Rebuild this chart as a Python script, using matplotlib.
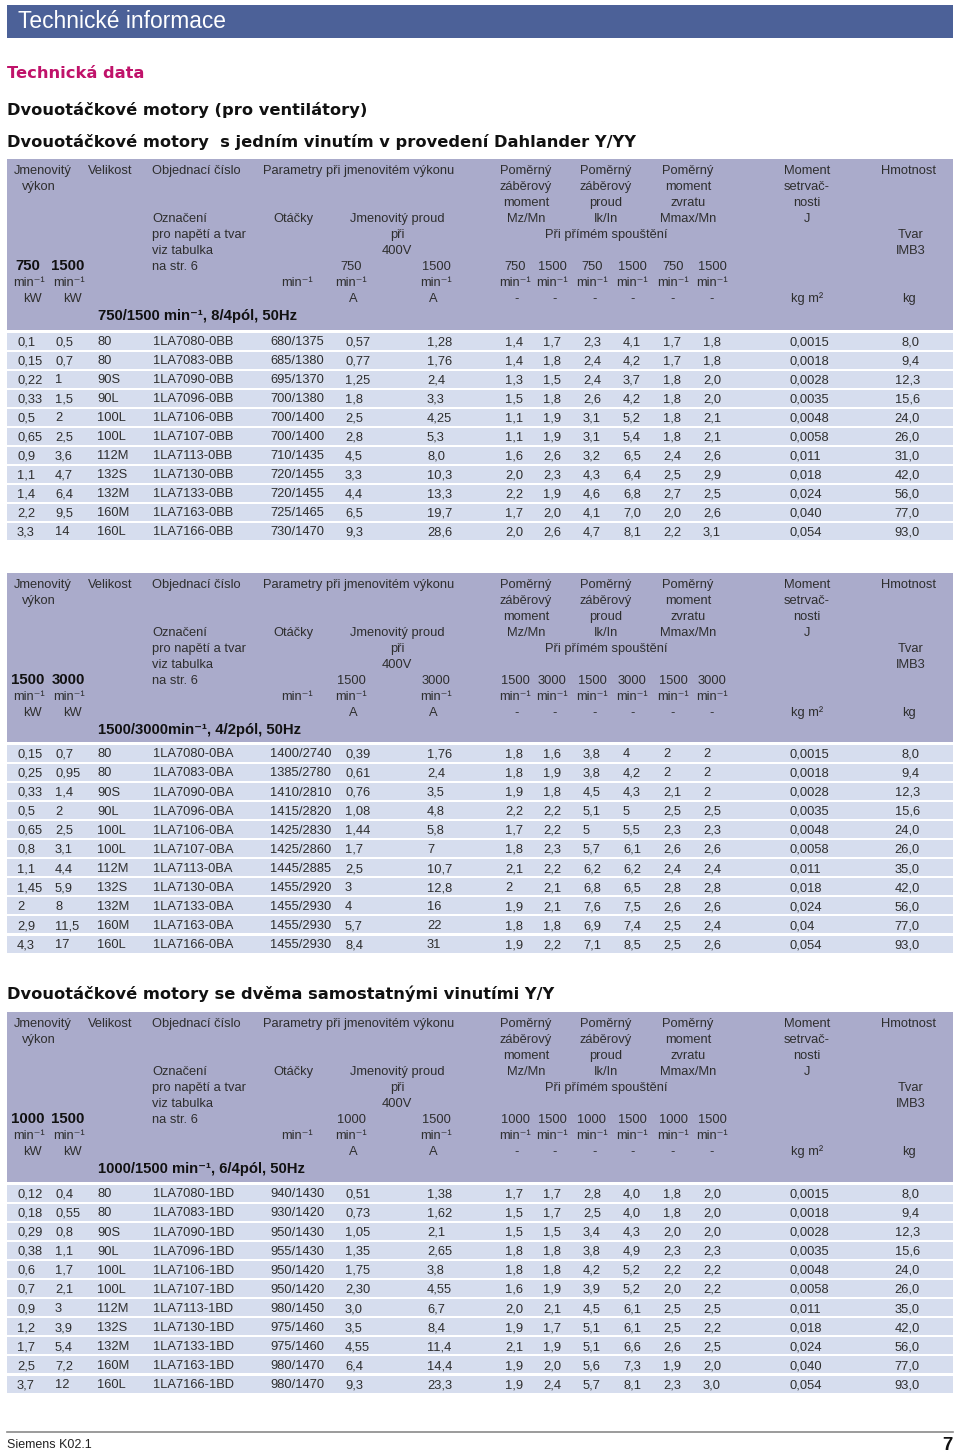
import matplotlib
matplotlib.use("Agg")
import matplotlib.pyplot as plt
from matplotlib.patches import Rectangle

# ---------------- data ----------------
sizes = ['80', '80', '90S', '90L', '100L', '100L', '112M', '132S', '132M', '160M', '160L']
frames = ['7080', '7083', '7090', '7096', '7106', '7107', '7113', '7130', '7133', '7163', '7166']

# Table 1: 750/1500
t1_speeds = ('750', '1500')
t1_sub = '750/1500 min⁻¹, 8/4pól, 50Hz'
t1_kw1 = ['0,1', '0,15', '0,22', '0,33', '0,5', '0,65', '0,9', '1,1', '1,4', '2,2', '3,3']
t1_kw2 = ['0,5', '0,7', '1', '1,5', '2', '2,5', '3,6', '4,7', '6,4', '9,5', '14']
t1_order = ['1LA' + f + '-0BB' for f in frames]
t1_rpm = ['680/1375', '685/1380', '695/1370', '700/1380', '700/1400', '700/1400',
          '710/1435', '720/1455', '720/1455', '725/1465', '730/1470']
t1_i1 = ['0,57', '0,77', '1,25', '1,8', '2,5', '2,8', '4,5', '3,3', '4,4', '6,5', '9,3']
t1_i2 = ['1,28', '1,76', '2,4', '3,3', '4,25', '5,3', '8,0', '10,3', '13,3', '19,7', '28,6']
t1_mz1 = ['1,4', '1,4', '1,3', '1,5', '1,1', '1,1', '1,6', '2,0', '2,2', '1,7', '2,0']
t1_mz2 = ['1,7', '1,8', '1,5', '1,8', '1,9', '1,9', '2,6', '2,3', '1,9', '2,0', '2,6']
t1_ik1 = ['2,3', '2,4', '2,4', '2,6', '3,1', '3,1', '3,2', '4,3', '4,6', '4,1', '4,7']
t1_ik2 = ['4,1', '4,2', '3,7', '4,2', '5,2', '5,4', '6,5', '6,4', '6,8', '7,0', '8,1']
t1_mm1 = ['1,7', '1,7', '1,8', '1,8', '1,8', '1,8', '2,4', '2,5', '2,7', '2,0', '2,2']
t1_mm2 = ['1,8', '1,8', '2,0', '2,0', '2,1', '2,1', '2,6', '2,9', '2,5', '2,6', '3,1']
t1_J = ['0,0015', '0,0018', '0,0028', '0,0035', '0,0048', '0,0058', '0,011', '0,018', '0,024', '0,040', '0,054']
t1_mass = ['8,0', '9,4', '12,3', '15,6', '24,0', '26,0', '31,0', '42,0', '56,0', '77,0', '93,0']

# Table 2: 1500/3000
t2_speeds = ('1500', '3000')
t2_sub = '1500/3000min⁻¹, 4/2pól, 50Hz'
t2_kw1 = ['0,15', '0,25', '0,33', '0,5', '0,65', '0,8', '1,1', '1,45', '2', '2,9', '4,3']
t2_kw2 = ['0,7', '0,95', '1,4', '2', '2,5', '3,1', '4,4', '5,9', '8', '11,5', '17']
t2_order = ['1LA' + f + '-0BA' for f in frames]
t2_rpm = ['1400/2740', '1385/2780', '1410/2810', '1415/2820', '1425/2830', '1425/2860',
          '1445/2885', '1455/2920', '1455/2930', '1455/2930', '1455/2930']
t2_i1 = ['0,39', '0,61', '0,76', '1,08', '1,44', '1,7', '2,5', '3', '4', '5,7', '8,4']
t2_i2 = ['1,76', '2,4', '3,5', '4,8', '5,8', '7', '10,7', '12,8', '16', '22', '31']
t2_mz1 = ['1,8', '1,8', '1,9', '2,2', '1,7', '1,8', '2,1', '2', '1,9', '1,8', '1,9']
t2_mz2 = ['1,6', '1,9', '1,8', '2,2', '2,2', '2,3', '2,2', '2,1', '2,1', '1,8', '2,2']
t2_ik1 = ['3,8', '3,8', '4,5', '5,1', '5', '5,7', '6,2', '6,8', '7,6', '6,9', '7,1']
t2_ik2 = ['4', '4,2', '4,3', '5', '5,5', '6,1', '6,2', '6,5', '7,5', '7,4', '8,5']
t2_mm1 = ['2', '2', '2,1', '2,5', '2,3', '2,6', '2,4', '2,8', '2,6', '2,5', '2,5']
t2_mm2 = ['2', '2', '2', '2,5', '2,3', '2,6', '2,4', '2,8', '2,6', '2,4', '2,6']
t2_J = ['0,0015', '0,0018', '0,0028', '0,0035', '0,0048', '0,0058', '0,011', '0,018', '0,024', '0,04', '0,054']
t2_mass = ['8,0', '9,4', '12,3', '15,6', '24,0', '26,0', '35,0', '42,0', '56,0', '77,0', '93,0']

# Table 3: 1000/1500
t3_speeds = ('1000', '1500')
t3_sub = '1000/1500 min⁻¹, 6/4pól, 50Hz'
t3_kw1 = ['0,12', '0,18', '0,29', '0,38', '0,6', '0,7', '0,9', '1,2', '1,7', '2,5', '3,7']
t3_kw2 = ['0,4', '0,55', '0,8', '1,1', '1,7', '2,1', '3', '3,9', '5,4', '7,2', '12']
t3_order = ['1LA' + f + '-1BD' for f in frames]
t3_rpm = ['940/1430', '930/1420', '950/1430', '955/1430', '950/1420', '950/1420',
          '980/1450', '975/1460', '975/1460', '980/1470', '980/1470']
t3_i1 = ['0,51', '0,73', '1,05', '1,35', '1,75', '2,30', '3,0', '3,5', '4,55', '6,4', '9,3']
t3_i2 = ['1,38', '1,62', '2,1', '2,65', '3,8', '4,55', '6,7', '8,4', '11,4', '14,4', '23,3']
t3_mz1 = ['1,7', '1,5', '1,5', '1,8', '1,8', '1,6', '2,0', '1,9', '2,1', '1,9', '1,9']
t3_mz2 = ['1,7', '1,7', '1,5', '1,8', '1,8', '1,9', '2,1', '1,7', '1,9', '2,0', '2,4']
t3_ik1 = ['2,8', '2,5', '3,4', '3,8', '4,2', '3,9', '4,5', '5,1', '5,1', '5,6', '5,7']
t3_ik2 = ['4,0', '4,0', '4,3', '4,9', '5,2', '5,2', '6,1', '6,1', '6,6', '7,3', '8,1']
t3_mm1 = ['1,8', '1,8', '2,0', '2,3', '2,2', '2,0', '2,5', '2,5', '2,6', '1,9', '2,3']
t3_mm2 = ['2,0', '2,0', '2,0', '2,3', '2,2', '2,2', '2,5', '2,2', '2,5', '2,0', '3,0']
t3_J = ['0,0015', '0,0018', '0,0028', '0,0035', '0,0048', '0,0058', '0,011', '0,018', '0,024', '0,040', '0,054']
t3_mass = ['8,0', '9,4', '12,3', '15,6', '24,0', '26,0', '35,0', '42,0', '56,0', '77,0', '93,0']

# ---------------- styling ----------------
W, H = 960, 1454
BAR = '#4c6198'
HDR = '#aaabcb'
ROW = '#d6ddee'
TXT = '#2e2e2e'
MAG = '#c0126a'
BODY = ['Liberation Sans', 'DejaVu Sans']
FS = 9.3

fig = plt.figure(figsize=(W / 100, H / 100), dpi=100)
ax = fig.add_axes([0, 0, 1, 1])
ax.set_xlim(0, W)
ax.set_ylim(H, 0)
ax.axis('off')


def T(x, y, s, ha='left', size=FS, weight='normal', color=TXT, family=BODY, dy=4.4):
    ax.text(x, y + dy, s, ha=ha, va='baseline', fontsize=size, fontweight=weight,
            color=color, family=family)


# title bar
ax.add_patch(Rectangle((7, 5), 946, 33, color=BAR, lw=0))
T(18, 21, 'Technické informace', size=16.4, color='white', dy=7.5)

HEAD = ['DejaVu Sans']
HS = 11.7
T(7, 73, 'Technická data', size=HS, weight='bold', color=MAG, family=HEAD, dy=5.5)
T(7, 110, 'Dvouotáčkové motory (pro ventilátory)', size=HS, weight='bold', color='#111', family=HEAD, dy=5.5)
T(7, 141, 'Dvouotáčkové motory  s jedním vinutím v provedení Dahlander Y/YY', size=HS,
  weight='bold', color='#111', family=HEAD, dy=5.5)
T(7, 994, 'Dvouotáčkové motory se dvěma samostatnými vinutími Y/Y', size=HS,
  weight='bold', color='#111', family=HEAD, dy=5.5)

MIN = 'min⁻¹'
SPEED_X = [515, 552, 592, 632, 673, 712]
DATA_X = [17, 55, 97, 153, 270, 345, 427, 505, 543, 583, 623, 663, 703, 790]


def table(top, row0, pitch, speeds, sub, cols, mass):
    s1, s2 = speeds
    hb = row0 - 11
    ax.add_patch(Rectangle((7, top), 946, hb - top, color=HDR, lw=0))
    y = [top + 11 + 16 * i for i in range(9)]
    C = 'center'
    # row 0
    T(14, y[0], 'Jmenovitý'); T(88, y[0], 'Velikost'); T(152, y[0], 'Objednací číslo')
    T(263, y[0], 'Parametry při jmenovitém výkonu')
    for xc in (526, 606, 688):
        T(xc, y[0], 'Poměrný', ha=C)
    T(807, y[0], 'Moment', ha=C); T(909, y[0], 'Hmotnost', ha=C)
    # row 1
    T(22, y[1], 'výkon'); T(526, y[1], 'záběrový', ha=C); T(606, y[1], 'záběrový', ha=C)
    T(688, y[1], 'moment', ha=C); T(807, y[1], 'setrvač-', ha=C)
    # row 2
    T(526, y[2], 'moment', ha=C); T(606, y[2], 'proud', ha=C)
    T(688, y[2], 'zvratu', ha=C); T(807, y[2], 'nosti', ha=C)
    # row 3
    T(152, y[3], 'Označení'); T(293, y[3], 'Otáčky', ha=C); T(397, y[3], 'Jmenovitý proud', ha=C)
    T(526, y[3], 'Mz/Mn', ha=C); T(606, y[3], 'Ik/In', ha=C); T(688, y[3], 'Mmax/Mn', ha=C)
    T(807, y[3], 'J', ha=C)
    # row 4
    T(152, y[4], 'pro napětí a tvar'); T(397, y[4], 'při', ha=C)
    T(606, y[4], 'Při přímém spouštění', ha=C); T(911, y[4], 'Tvar', ha=C)
    # row 5
    T(152, y[5], 'viz tabulka'); T(397, y[5], '400V', ha=C); T(911, y[5], 'IMB3', ha=C)
    # row 6
    T(28, y[6], s1, ha=C, weight='bold', size=10.8, color='#111')
    T(68, y[6], s2, ha=C, weight='bold', size=10.8, color='#111')
    T(152, y[6], 'na str. 6'); T(351, y[6], s1, ha=C); T(436, y[6], s2, ha=C)
    for i, xc in enumerate(SPEED_X):
        T(xc, y[6], s1 if i % 2 == 0 else s2, ha=C)
    # row 7
    for xc in [29, 69, 297, 351, 436] + SPEED_X:
        T(xc, y[7], MIN, ha=C)
    # row 8
    T(32, y[8], 'kW', ha=C); T(72, y[8], 'kW', ha=C)
    T(353, y[8], 'A', ha=C); T(433, y[8], 'A', ha=C)
    for xc in [517, 555, 595, 633, 673, 712]:
        T(xc, y[8], '-', ha=C)
    T(807, y[8], 'kg m²', ha=C); T(909, y[8], 'kg', ha=C)
    # subtitle
    T(98, top + 157, sub, weight='bold', size=10.7, color='#111')

    # data rows
    n = len(mass)
    for r in range(n):
        yc = row0 + pitch * r
        ax.add_patch(Rectangle((7, yc - 8.5), 946, 17, color=ROW, lw=0))
        for x, col in zip(DATA_X, cols):
            T(x, yc, col[r])
        T(920, yc, mass[r], ha='right')


table(159, 341, 19.0, t1_speeds, t1_sub,
      [t1_kw1, t1_kw2, sizes, t1_order, t1_rpm, t1_i1, t1_i2,
       t1_mz1, t1_mz2, t1_ik1, t1_ik2, t1_mm1, t1_mm2, t1_J], t1_mass)
table(573, 753, 19.1, t2_speeds, t2_sub,
      [t2_kw1, t2_kw2, sizes, t2_order, t2_rpm, t2_i1, t2_i2,
       t2_mz1, t2_mz2, t2_ik1, t2_ik2, t2_mm1, t2_mm2, t2_J], t2_mass)
table(1012, 1193, 19.1, t3_speeds, t3_sub,
      [t3_kw1, t3_kw2, sizes, t3_order, t3_rpm, t3_i1, t3_i2,
       t3_mz1, t3_mz2, t3_ik1, t3_ik2, t3_mm1, t3_mm2, t3_J], t3_mass)

# footer
ax.plot([7, 953], [1432, 1432], color='#8a8a8a', lw=1.2)
T(7, 1444, 'Siemens K02.1', size=9, color='#222')
T(953, 1444, '7', ha='right', size=13.5, weight='bold', color='#111', dy=6)

fig.savefig('out.png', dpi=100)
